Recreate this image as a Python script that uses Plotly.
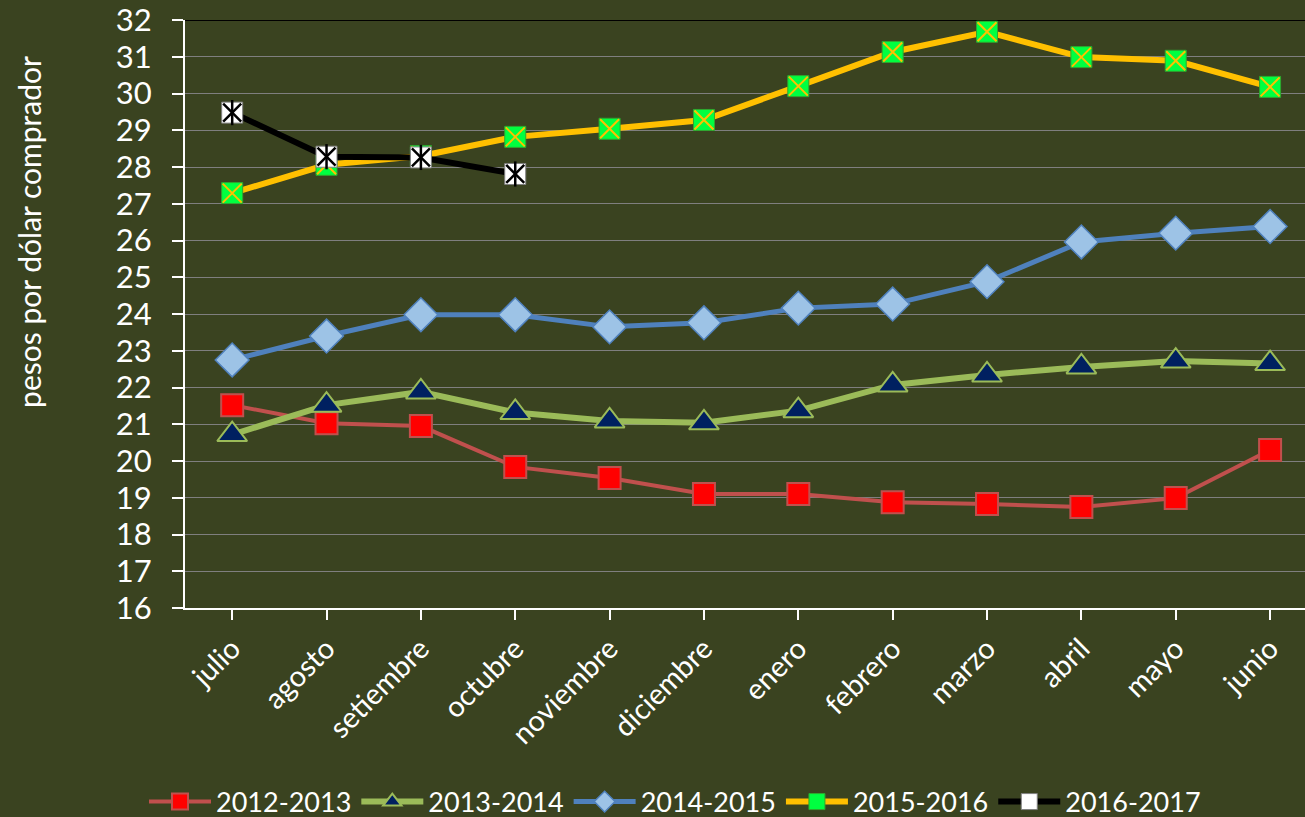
import plotly.graph_objects as go

months = ["julio", "agosto", "setiembre", "octubre", "noviembre", "diciembre",
          "enero", "febrero", "marzo", "abril", "mayo", "junio"]
y_ticks = list(range(16, 33))

s_2012 = [21.52, 21.03, 20.95, 19.84, 19.54, 19.10, 19.10, 18.88, 18.83, 18.75, 18.99, 20.30]
s_2013 = [20.72, 21.52, 21.88, 21.32, 21.09, 21.04, 21.37, 22.07, 22.34, 22.56, 22.72, 22.65]
s_2014 = [22.75, 23.40, 23.98, 23.98, 23.65, 23.76, 24.16, 24.27, 24.88, 25.96, 26.20, 26.38]
s_2015 = [27.29, 28.06, 28.30, 28.82, 29.04, 29.28, 30.20, 31.13, 31.68, 30.99, 30.89, 30.18]
s_2016 = [29.48, 28.28, 28.26, 27.81]

BG = "#3A4320"
FONT = "Lato, Open Sans, sans-serif"

fig = go.Figure()
x_idx = list(range(len(months)))
x_16 = x_idx[:len(s_2016)]

fig.add_trace(go.Scatter(
    x=x_idx, y=s_2012, name="2012-2013", mode="lines+markers",
    line=dict(color="#C0504D", width=4),
    marker=dict(symbol="square", size=22, color="#FF0000", line=dict(color="#C0504D", width=2))))
fig.add_trace(go.Scatter(
    x=x_idx, y=s_2013, name="2013-2014", mode="lines+markers",
    line=dict(color="#9BBB59", width=6),
    marker=dict(symbol="triangle-up", size=26, color="#002060", line=dict(color="#9BBB59", width=2))))
fig.add_trace(go.Scatter(
    x=x_idx, y=s_2014, name="2014-2015", mode="lines+markers",
    line=dict(color="#4F81BD", width=5),
    marker=dict(symbol="diamond", size=26, color="#9DC3E6", line=dict(color="#4F81BD", width=1.5))))
fig.add_trace(go.Scatter(
    x=x_idx, y=s_2015, name="2015-2016", mode="lines+markers", legendgroup="g15",
    line=dict(color="#FFC000", width=6),
    marker=dict(symbol="square", size=21, color="#00FF40", line=dict(color="#2EA82E", width=1))))
fig.add_trace(go.Scatter(
    x=x_idx, y=s_2015, mode="markers", legendgroup="g15", showlegend=False, hoverinfo="skip",
    marker=dict(symbol="x-thin", size=19, color="#FFC000", line=dict(color="#FFC000", width=2))))
fig.add_trace(go.Scatter(
    x=x_16, y=s_2016, name="2016-2017", mode="lines+markers", legendgroup="g16",
    line=dict(color="#000000", width=6),
    marker=dict(symbol="square", size=21, color="#FFFFFF", line=dict(color="#808080", width=1))))
# asterisk = x + vertical bar
for sym in ["x-thin", "line-ns"]:
    fig.add_trace(go.Scatter(
        x=x_16, y=s_2016, mode="markers", legendgroup="g16", showlegend=False, hoverinfo="skip",
        marker=dict(symbol=sym, size=18, color="#000000", line=dict(color="#000000", width=2.5))))

# black top border at 32
fig.add_shape(type="line", xref="paper", yref="y", x0=0, x1=1, y0=32, y1=32,
              line=dict(color="#000000", width=2), layer="below")

fig.add_annotation(text="pesos por dólar comprador", textangle=-90, showarrow=False,
                   xref="paper", yref="paper", x=-0.14, y=0.64,
                   xanchor="center", yanchor="middle",
                   font=dict(size=30, color="#FFFFFF", family=FONT))

fig.update_layout(
    width=1305, height=817,
    paper_bgcolor=BG, plot_bgcolor=BG,
    margin=dict(l=185, r=0, t=20, b=209, autoexpand=False),
    font=dict(family=FONT, color="#FFFFFF"),
    showlegend=True,
    legend=dict(orientation="h", x=0.4375, xanchor="center", y=-0.33, yanchor="middle",
                font=dict(size=27, color="#FFFFFF"), itemwidth=62, tracegroupgap=0,
                bgcolor="rgba(0,0,0,0)"),
    xaxis=dict(
        tickmode="array", tickvals=x_idx, ticktext=months,
        range=[-0.5, 11.37], tickangle=-45, tickson="boundaries",
        ticks="outside", ticklen=10, tickcolor="#FFFFFF", tickwidth=2,
        showline=True, linecolor="#FFFFFF", linewidth=2,
        showgrid=False, zeroline=False,
        tickfont=dict(size=29, color="#FFFFFF")),
    yaxis=dict(
        range=[16, 32], tickmode="array", tickvals=y_ticks,
        ticks="outside", ticklen=11, tickcolor="#FFFFFF", tickwidth=2,
        ticklabelstandoff=14, ticklabeloverflow="allow",
        showline=True, linecolor="#FFFFFF", linewidth=2,
        showgrid=True, gridcolor="#7F7F7F", gridwidth=1, zeroline=False,
        tickfont=dict(size=31, color="#FFFFFF")),
)

fig.write_html("out.html", config={"displayModeBar": False},
               post_script="document.body.style.margin='0';")
